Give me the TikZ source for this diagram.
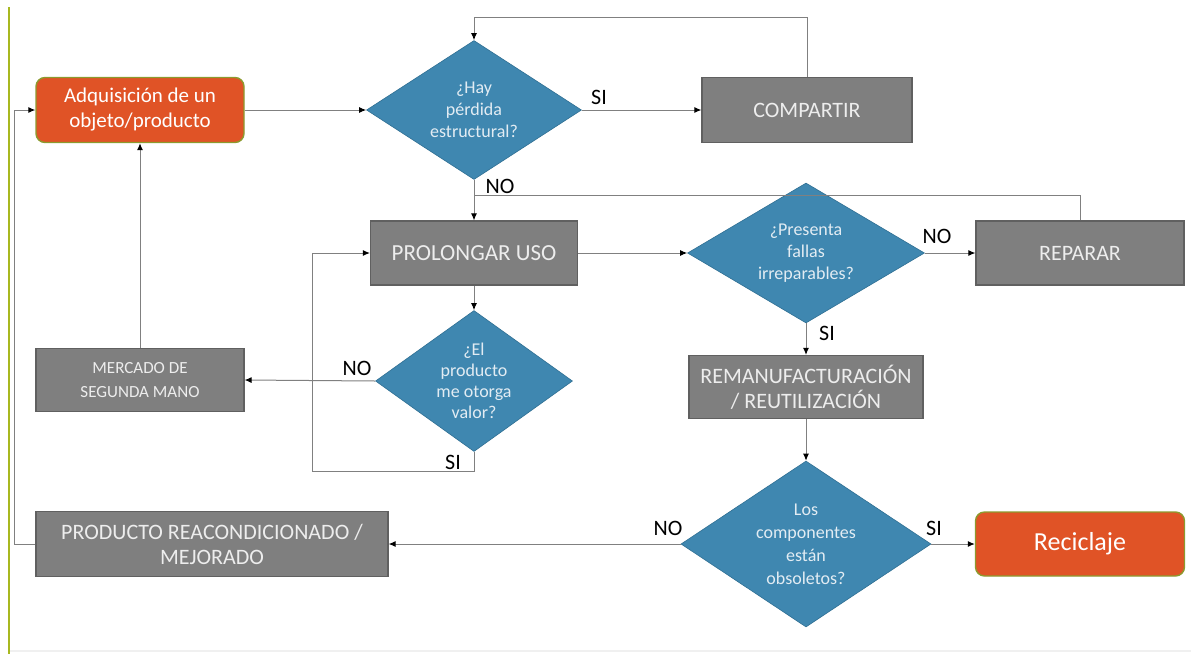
\documentclass[tikz,border=0pt]{standalone}
\usepackage{fontspec}
\setmainfont{Carlito}
\usetikzlibrary{shapes.geometric,arrows.meta}
\definecolor{orng}{HTML}{E05326}
\definecolor{olivec}{HTML}{8C9A2E}
\definecolor{dblue}{HTML}{3F87B0}
\definecolor{dblueb}{HTML}{2F6F93}
\definecolor{gbox}{HTML}{7F7F7F}
\definecolor{gboxb}{HTML}{606060}
\definecolor{lnc}{HTML}{808080}
\definecolor{barg}{HTML}{A8B820}
\definecolor{txtl}{HTML}{EDEDED}
\definecolor{txtb}{HTML}{E2ECF3}
\begin{document}
\begin{tikzpicture}[x=1pt,y=-1pt,
  graybox/.style={draw=gboxb, fill=gbox, line width=1.2pt, text=txtl, align=center, inner sep=0pt, font=\fontsize{22}{25}\selectfont},
  orbox/.style={draw=olivec, fill=orng, line width=1.4pt, rounded corners=9pt, text=white, align=center, inner sep=0pt},
  dia/.style={diamond, draw=dblueb, fill=dblue, line width=0.6pt, text=txtb, align=center, inner sep=-40pt, font=\fontsize{18}{22}\selectfont},
  conn/.style={draw=lnc, line width=1pt, -{Latex[length=7pt,width=6pt,black]}},
  plain/.style={draw=lnc, line width=1pt},
  lab/.style={font=\fontsize{22}{22}\selectfont, text=black, inner sep=0pt}
]
\useasboundingbox (0,0) rectangle (1191,654);
\draw[barg, line width=1.5pt] (9,7) -- (9,654);
\draw[black!6, line width=1.5pt] (10,651) -- (1191,651);

\node[orbox, minimum width=208pt, minimum height=65pt, font=\fontsize{21}{25}\selectfont] (adq) at (140,110) {Adquisición de un\\objeto/producto};
\node[dia, minimum width=215pt, minimum height=139pt] (d1) at (474,110) {¿Hay\\pérdida\\estructural?};
\node[graybox, minimum width=210pt, minimum height=65pt] (comp) at (807,110) {COMPARTIR};
\node[graybox, minimum width=207pt, minimum height=64pt, font=\fontsize{23}{25}\selectfont] (prol) at (474,253) {PROLONGAR USO};
\node[dia, minimum width=237pt, minimum height=140pt] (d2) at (806,253) {¿Presenta\\fallas\\irreparables?};
\node[graybox, minimum width=208pt, minimum height=64pt] (rep) at (1080,253) {REPARAR};
\node[graybox, minimum width=208pt, minimum height=63pt, font=\fontsize{17}{24}\selectfont] (merc) at (140,380) {MERCADO DE\\SEGUNDA MANO};
\node[dia, minimum width=197pt, minimum height=141pt, font=\fontsize{18}{21}\selectfont] (d4) at (474,381) {¿El\\producto\\me otorga\\valor?};
\node[graybox, minimum width=234pt, minimum height=63pt] (rem) at (806,387) {REMANUFACTURACIÓN\\/ REUTILIZACIÓN};
\node[dia, minimum width=250pt, minimum height=166pt, font=\fontsize{18}{23}\selectfont] (d3) at (806,544) {Los\\componentes\\están\\obsoletos?};
\node[graybox, minimum width=352pt, minimum height=65pt] (prod) at (212,544) {PRODUCTO REACONDICIONADO /\\MEJORADO};
\node[orbox, minimum width=209pt, minimum height=64pt, font=\fontsize{26}{28}\selectfont] (rec) at (1080,544) {Reciclaje};

\coordinate (top) at (474,17);
\coordinate (j1) at (474,195);
\coordinate (c1) at (312,471);
\coordinate (c2) at (14,110);

\draw[conn] (adq.east) -- (d1.west);
\draw[conn] (d1.east) -- (comp.west);
\draw[conn] (comp.north) |- (top) -- (d1.north);
\draw[conn] (d1.south) -- (prol.north);
\draw[plain] (rep.north) |- (j1);
\draw[conn] (prol.south) -- (d4.north);
\draw[conn] (d4.west) -- (merc.east);
\draw[conn] (d4.south) |- (c1) |- (prol.west);
\draw[conn] (merc.north) -- (adq.south);
\draw[conn] (prol.east) -- (d2.west);
\draw[conn] (d2.east) -- (rep.west);
\draw[conn] (d2.south) -- (rem.north);
\draw[conn] (rem.south) -- (d3.north);
\draw[conn] (d3.east) -- (rec.west);
\draw[conn] (d3.west) -- (prod.east);
\draw[conn] (prod.west) -| (c2) -- (adq.west);

\node[lab] (l1) at (599,97) {SI};
\node[lab] (l2) at (500,186) {NO};
\node[lab] (l3) at (937,236) {NO};
\node[lab] (l4) at (827,333) {SI};
\node[lab] (l5) at (357,368) {NO};
\node[lab] (l6) at (453,462) {SI};
\node[lab] (l7) at (668,528) {NO};
\node[lab] (l8) at (934,528) {SI};
\end{tikzpicture}
\end{document}
